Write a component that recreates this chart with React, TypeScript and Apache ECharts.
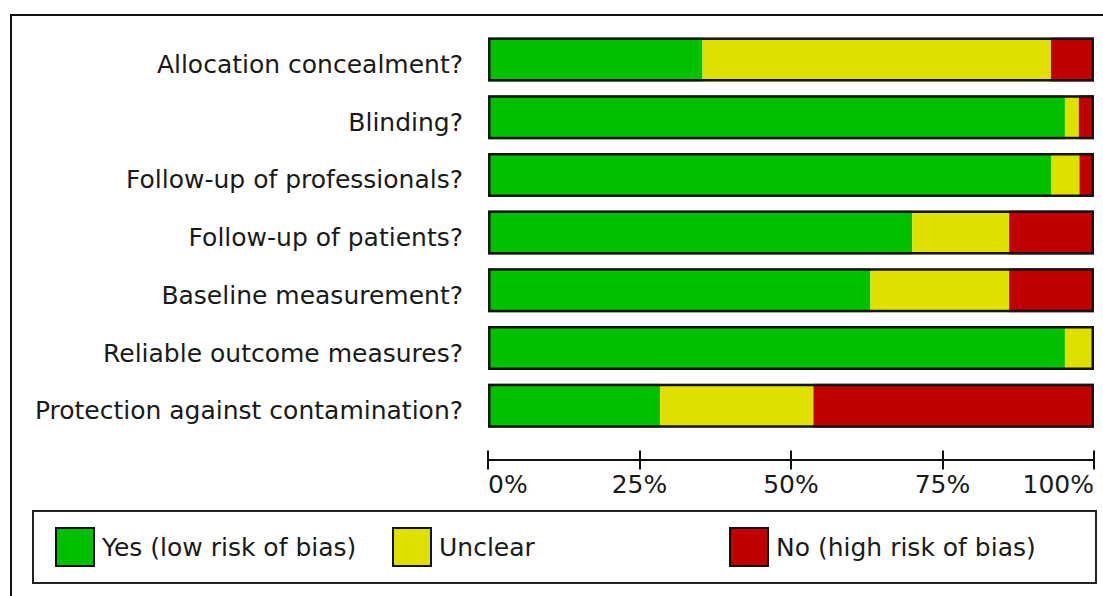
import React, { useEffect, useRef } from "react";
import * as echarts from "echarts";

const categories = [
  "Allocation concealment?",
  "Blinding?",
  "Follow-up of professionals?",
  "Follow-up of patients?",
  "Baseline measurement?",
  "Reliable outcome measures?",
  "Protection against contamination?",
];
const yesLow = [35.4, 95.2, 92.9, 70.0, 63.1, 95.2, 28.4];
const unclear = [57.5, 2.3, 4.7, 16.0, 22.9, 4.8, 25.3];
const noHigh = [7.1, 2.5, 2.4, 14.0, 14.0, 0, 46.3];
const seriesNames = ["Yes (low risk of bias)", "Unclear", "No (high risk of bias)"];
const tickValues = [0, 25, 50, 75, 100];

const FONT = "DejaVu Sans";
const TEXT = "#1a1a1a";
const COLORS = ["#00c000", "#e0e000", "#c00000"];

export default function App() {
  const ref = useRef<HTMLDivElement>(null);
  useEffect(() => {
    if (!ref.current) return;
    const chart = echarts.init(ref.current, undefined, { renderer: "svg" });
    const totals = yesLow.map((v, i) => +(v + unclear[i] + noHigh[i]).toFixed(1));
    const legendX = [55, 392, 729];
    const option: any = {
      animation: false,
      backgroundColor: "#ffffff",
      grid: { left: 488, right: 9, top: 30.6, height: 404, containLabel: false },
      xAxis: [
        {
          type: "value",
          position: "bottom",
          offset: 25,
          min: tickValues[0],
          max: tickValues[tickValues.length - 1],
          interval: 25,
          axisLine: { show: true, lineStyle: { color: "#111", width: 2 } },
          axisTick: { show: true, length: 10, lineStyle: { color: "#111", width: 2 } },
          splitLine: { show: false },
          axisLabel: {
            formatter: "{value}%",
            fontFamily: FONT,
            fontSize: 25,
            color: TEXT,
            margin: 12,
            alignMinLabel: "left",
            alignMaxLabel: "right",
          },
        },
        {
          type: "value",
          position: "bottom",
          offset: 25,
          min: 0,
          max: 100,
          interval: 25,
          axisLine: { show: false },
          axisTick: { show: true, inside: true, length: 9, lineStyle: { color: "#111", width: 2 } },
          splitLine: { show: false },
          axisLabel: { show: false },
        },
      ],
      yAxis: {
        type: "category",
        data: categories,
        inverse: true,
        axisLine: { show: false },
        axisTick: { show: false },
        axisLabel: {
          fontFamily: FONT,
          fontSize: 25,
          color: TEXT,
          margin: 25,
          formatter: (v: string) => "{l|" + v + "}",
          rich: {
            l: { fontFamily: FONT, fontSize: 25, color: TEXT, padding: [10, 0, 0, 0] },
          },
        },
      },
      legend: seriesNames.map((n, i) => ({
        data: [n],
        left: legendX[i],
        top: 527,
        padding: 0,
        itemWidth: 38,
        itemHeight: 38,
        icon: "rect",
        selectedMode: false,
        itemStyle: { borderColor: "#111", borderWidth: 2 },
        textStyle: { fontFamily: FONT, fontSize: 25, color: TEXT, padding: [0, 0, 0, 3] },
      })),
      series: [
        ...[yesLow, unclear, noHigh].map((d, i) => ({
          name: seriesNames[i],
          type: "bar",
          stack: "risk",
          data: d,
          barWidth: 44,
          barGap: "-100%",
          itemStyle: { color: COLORS[i] },
          emphasis: { disabled: true },
        })),
        {
          name: "outline",
          type: "bar",
          data: totals,
          barWidth: 44,
          barGap: "-100%",
          z: 5,
          itemStyle: { color: "rgba(0,0,0,0)", borderColor: "#151515", borderWidth: 2.5 },
          emphasis: { disabled: true },
          silent: true,
        },
      ],
      graphic: [
        { type: "line", shape: { x1: 11, y1: 14, x2: 11, y2: 600 }, style: { stroke: "#111", lineWidth: 2 } },
        { type: "line", shape: { x1: 10, y1: 15, x2: 1110, y2: 15 }, style: { stroke: "#111", lineWidth: 2 } },
        {
          type: "rect",
          shape: { x: 33, y: 511, width: 1063, height: 72 },
          style: { fill: "none", stroke: "#222", lineWidth: 2 },
          z: -1,
        },
      ],
    };
    chart.setOption(option);
    return () => chart.dispose();
  }, []);
  return (
    <div
      ref={ref}
      style={{ position: "absolute", left: 0, top: 0, width: 1103, height: 596 }}
    />
  );
}
